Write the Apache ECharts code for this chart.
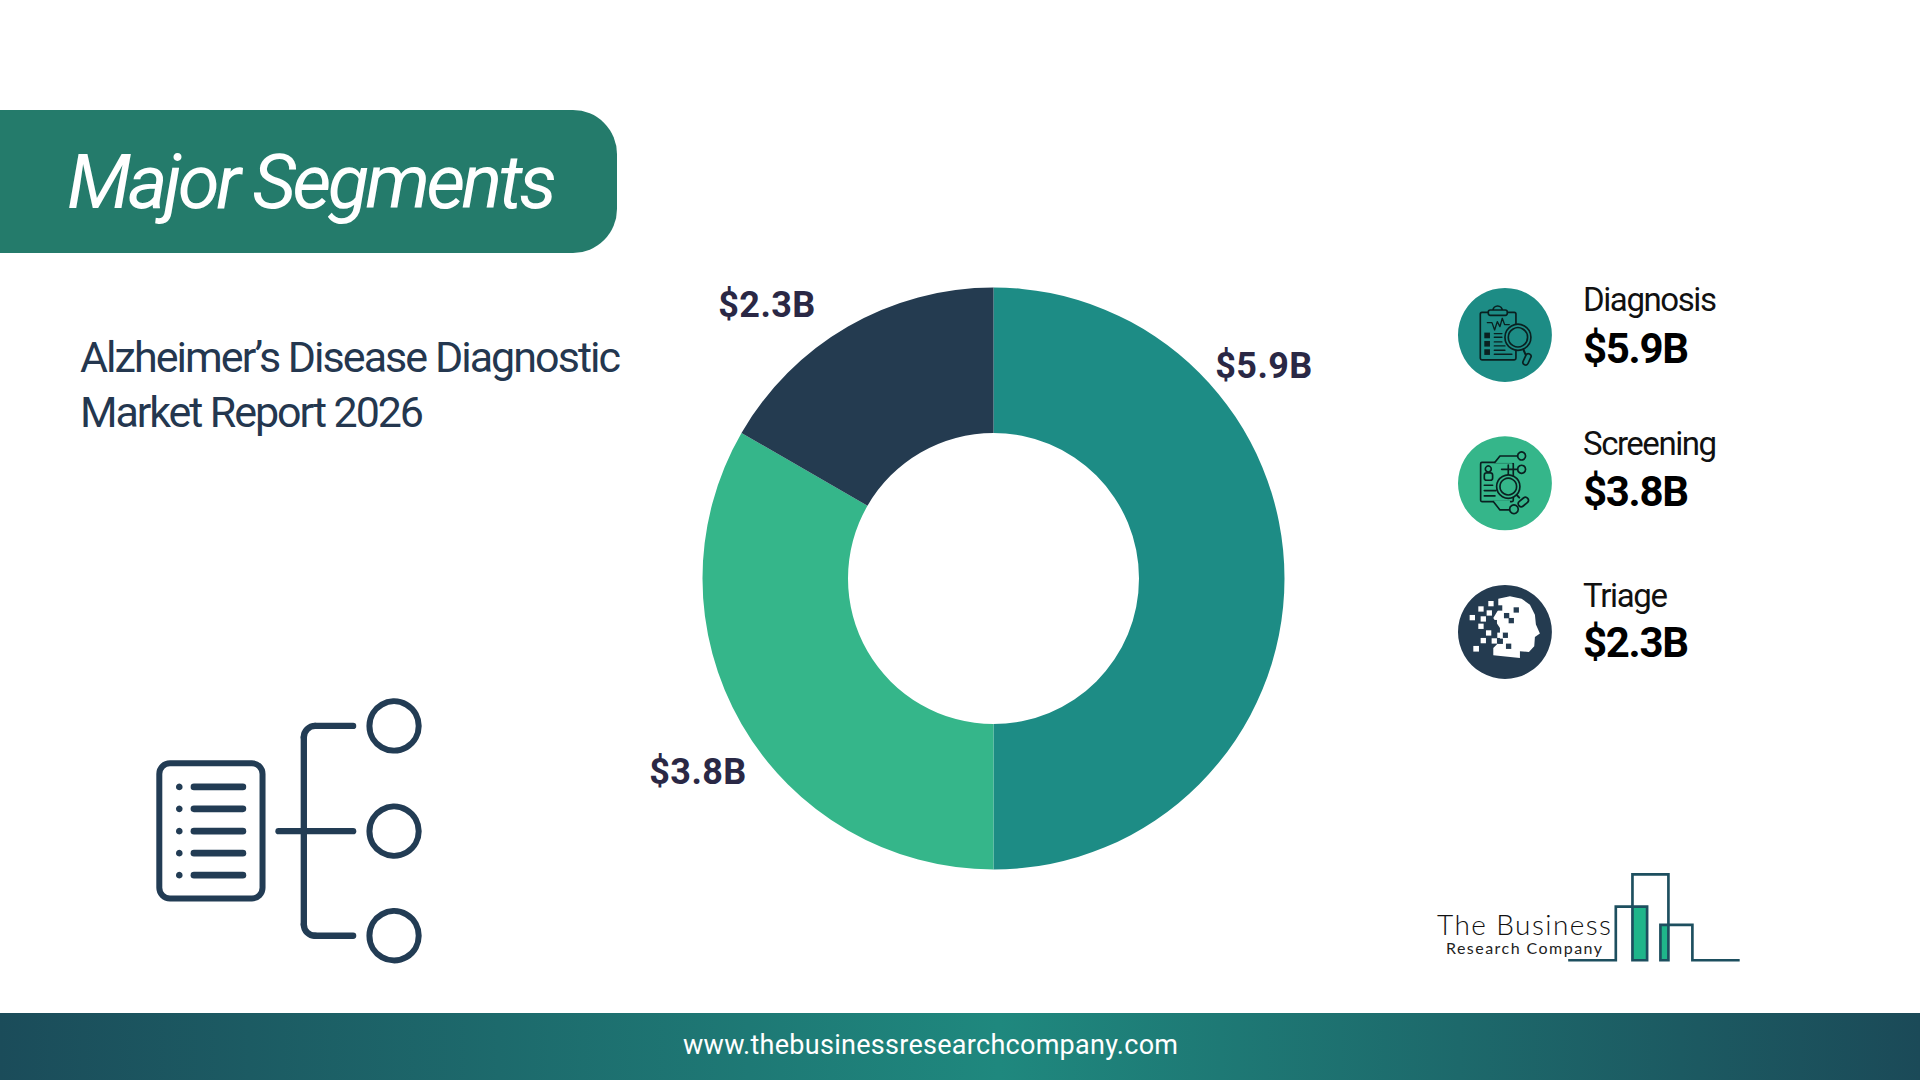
<!DOCTYPE html>
<html>
<head>
<meta charset="utf-8">
<style>html,body{margin:0;padding:0;background:#fff}#c{width:1920px;height:1080px}</style>
<script src="https://cdn.jsdelivr.net/npm/echarts@6/dist/echarts.min.js"></script>
</head>
<body>
<div id="c"></div>
<script>
// Data
const categories = ['Diagnosis', 'Screening', 'Triage'];
const valueLabels = ['$5.9B', '$3.8B', '$2.3B'];
// Slice sizes as drawn in the reference: the arcs measure 180, 120 and 60 degrees
const sliceSizes = [6, 4, 2];
const headerTitle = 'Major Segments';
const reportLines = ['Alzheimer\u2019s Disease Diagnostic', 'Market Report 2026'];
const footerUrl = 'www.thebusinessresearchcompany.com';
const sliceColors = ['#1D8C85', '#35B68A', '#243B50'];
const labelCenters = [[1264, 366], [698, 772], [767, 305]];

const INK = '#223C54';
const measure = document.createElement('canvas').getContext('2d');
const spacing = {};
function fit(text, font, size, width) {
  measure.font = font;
  spacing[text + '|' + size] = (width - measure.measureText(text).width) / (text.length - 1);
}
function T(text, x, base, size, opt) {
  opt = opt || {};
  const font = (opt.italic ? 'italic ' : '') + (opt.weight || 400) + ' ' + size + 'px ' + (opt.family || 'Roboto');
  if (opt.width) fit(text, font, size, opt.width);
  return {
    type: 'text', x: x, y: base, silent: true,
    style: {
      text: text, x: 0, y: -0.34 * size, fill: opt.color || '#000',
      font: font, align: opt.align || 'left', verticalAlign: 'middle'
    }
  };
}
const ln = (a, b, c, d, w, col, cap) => ({type: 'line', silent: true, shape: {x1: a, y1: b, x2: c, y2: d},
  style: {stroke: col, lineWidth: w, lineCap: cap || 'round', fill: null}});
const ring = (cx, cy, r, w, col, fill) => ({type: 'circle', silent: true, shape: {cx, cy, r},
  style: {stroke: col, lineWidth: w, fill: fill || 'none'}});
const disc = (cx, cy, r, col) => ({type: 'circle', silent: true, shape: {cx, cy, r}, style: {fill: col}});
const box = (x, y, w, h, r, stroke, lw, fill) => ({type: 'rect', silent: true, shape: {x, y, width: w, height: h, r},
  style: {stroke: stroke || null, lineWidth: lw || 0, fill: fill || 'none'}});
const arc = (cx, cy, r, a, b, w, col) => ({type: 'arc', silent: true, shape: {cx, cy, r, startAngle: a, endAngle: b, clockwise: true},
  style: {stroke: col, lineWidth: w, fill: null, lineCap: 'round'}});
const pl = (pts, w, col) => ({type: 'polyline', silent: true, shape: {points: pts},
  style: {stroke: col, lineWidth: w, fill: null, lineJoin: 'round', lineCap: 'round'}});
const capsule = (cx, cy, len, h, deg, stroke, lw, fill) => ({type: 'rect', silent: true, x: cx, y: cy, rotation: -deg * Math.PI / 180,
  shape: {x: -len / 2, y: -h / 2, width: len, height: h, r: h / 2}, style: {stroke, lineWidth: lw, fill}});
const sq = (x, y, s, col) => box(x, y, s, s, 0, null, 0, col);

// Tree icon, bottom left
const treeY = [138, 454, 768];
const bullets = [321, 387, 454, 520, 586];
const treeIcon = {
  type: 'group', x: 130, y: 680, scaleX: 1 / 3, scaleY: 1 / 3,
  children: [
    box(88, 250, 310, 406, 32, INK, 18),
    ...bullets.flatMap(y => [disc(148, y, 10, INK), ln(192, y, 339, y, 20, INK)]),
    ln(446, 454, 670, 454, 19, INK),
    ln(522, 172, 522, 734, 19, INK),
    arc(556, 172, 34, Math.PI, Math.PI * 1.5, 19, INK),
    arc(556, 734, 34, Math.PI / 2, Math.PI, 19, INK),
    ln(556, 138, 670, 138, 19, INK),
    ln(556, 768, 670, 768, 19, INK),
    ...treeY.map(y => ring(793, y, 74, 18, INK))
  ]
};

// Round icons
const K = '#0A2020';
const LW = 5;
const iconDiagnosis = {
  type: 'group', x: 1450, y: 280, scaleX: 1 / 3, scaleY: 1 / 3,
  children: [
    disc(165, 165, 141, sliceColors[0]),
    box(91, 97, 107, 143, 5, K, LW),
    arc(143, 92, 14, Math.PI, 0, LW, K),
    box(115, 90, 57, 16, 6, K, LW, sliceColors[0]),
    pl([[112, 128], [126, 128], [134, 150], [142, 125], [150, 140], [157, 115], [164, 134], [178, 134]], LW - 1, K),
    sq(103, 158, 17, K), sq(103, 183, 17, K), sq(103, 208, 17, K),
    ln(133, 161, 156, 161, LW - 1, K), ln(133, 172, 156, 172, LW - 1, K), ln(133, 186, 156, 186, LW - 1, K),
    ln(133, 198, 165, 198, LW - 1, K), ln(133, 211, 165, 211, LW - 1, K), ln(133, 223, 186, 223, LW - 1, K),
    ln(220, 208, 227, 224, LW + 1, K),
    capsule(231, 238, 36, 16, -65, K, LW, sliceColors[0]),
    ring(204, 172, 39, LW, K, sliceColors[0]),
    ring(204, 172, 29, LW, K, sliceColors[0])
  ]
};
const iconScreening = {
  type: 'group', x: 1450, y: 430, scaleX: 1 / 3, scaleY: 1 / 3,
  children: [
    disc(165, 160, 141, sliceColors[1]),
    box(92, 97, 98, 118, 4, K, LW),
    ring(115, 117, 9, LW, K),
    box(103, 129, 25, 22, 7, K, LW),
    ln(103, 166, 128, 166, LW, K), ln(103, 182, 138, 182, LW, K), ln(103, 198, 135, 198, LW, K),
    box(135, 70, 70, 29, 0, null, 0, sliceColors[1]),
    pl([[135, 97], [150, 78], [203, 78]], LW, K),
    ring(215, 78, 12, LW, K),
    pl([[155, 118], [203, 118]], LW, K),
    ln(175, 105, 175, 135, LW, K),
    ring(215, 118, 12, LW, K),
    box(130, 212, 50, 32, 0, null, 0, sliceColors[1]),
    pl([[130, 215], [150, 240], [179, 240]], LW, K),
    ring(192, 238, 13, LW, K),
    ln(198, 193, 208, 203, LW + 1, K),
    capsule(220, 216, 34, 18, -40, K, LW, sliceColors[1]),
    ring(175, 170, 35, LW, K, sliceColors[1]),
    ring(175, 170, 25, LW, K, sliceColors[1])
  ]
};
const WHITE = '#FFFFFF';
const headPts = [[145, 62], [180, 55], [215, 62], [240, 80], [255, 110], [258, 140], [270, 167], [255, 177], [253, 205], [237, 222], [210, 220], [210, 240], [130, 232], [130, 210], [150, 190], [150, 150], [130, 120], [145, 95]];
const whiteSq = [[115, 69], [85, 85], [110, 97], [59, 111], [92, 115], [85, 137], [108, 157], [92, 180], [125, 181], [142, 164]];
const darkSq = [[141, 82], [162, 105], [191, 88], [176, 120], [108, 116], [125, 126], [125, 148], [158, 164], [143, 182], [168, 197]];
const iconTriage = {
  type: 'group', x: 1450, y: 578, scaleX: 1 / 3, scaleY: 1 / 3,
  children: [
    disc(165, 162, 141, sliceColors[2]),
    {type: 'polygon', silent: true, shape: {points: headPts}, style: {fill: WHITE}},
    ...darkSq.map(p => sq(p[0], p[1], 16, sliceColors[2])),
    ...whiteSq.map(p => sq(p[0], p[1], 16, WHITE)),
    sq(70, 204, 17, WHITE)
  ]
};

// Logo
const LOGO = '#1D4F5F';
const logo = {
  type: 'group', x: 1420, y: 860, scaleX: 1 / 3, scaleY: 1 / 3,
  children: [
    box(638, 142, 44, 158, 0, null, 0, '#1FB58A'),
    box(722, 197, 24, 103, 0, null, 0, '#1FB58A'),
    {type: 'polyline', silent: true, shape: {points: [[445, 301], [588, 301], [588, 140], [682, 140], [682, 301], [638, 301], [638, 43], [746, 43], [746, 301], [722, 301], [722, 195], [818, 195], [818, 301], [960, 301]]},
      style: {stroke: LOGO, lineWidth: 8, fill: null, lineJoin: 'miter'}}
  ]
};

const legendY = [[311, 363], [455, 506], [607, 657]];
const legendWidthName = [134, 134, 85];
const legendText = categories.flatMap((c, i) => [
  T(c, 1583, legendY[i][0], 33, {color: '#111', width: legendWidthName[i]}),
  T(valueLabels[i], 1583, legendY[i][1], 42, {weight: 700, width: 106})
]);

const graphicEls = [
  {type: 'rect', silent: true, shape: {x: -60, y: 110, width: 677, height: 143, r: 44}, style: {fill: '#247B6B'}},
  T(headerTitle, 67, 208, 76, {italic: true, color: '#fff', width: 490}),
  T(reportLines[0], 80, 372, 43, {color: '#24374F', width: 541}),
  T(reportLines[1], 80, 427, 43, {color: '#24374F', width: 344}),
  treeIcon, iconDiagnosis, iconScreening, iconTriage,
  ...legendText,
  logo,
  T('The Business', 1437, 934, 28, {family: 'Lato', weight: 300, color: '#111', width: 174}),
  T('Research Company', 1446, 953, 16, {family: 'Lato', color: '#222', width: 156}),
  {type: 'rect', silent: true, shape: {x: 0, y: 1013, width: 1920, height: 67}, style: {fill: {
    type: 'linear', x: 0, y: 0, x2: 1, y2: 0, colorStops: [
      {offset: 0, color: '#1B4C5A'}, {offset: 0.52, color: '#1F887E'}, {offset: 1, color: '#1B4A58'}]}}},
  T(footerUrl, 683, 1054, 27, {color: '#fff', width: 495})
];

const PIE_FONT = 36;
valueLabels.forEach(v => fit(v, '700 ' + PIE_FONT + 'px Roboto', PIE_FONT, 97));

const chart = echarts.init(document.getElementById('c'), null, {renderer: 'svg', width: 1920, height: 1080});
chart.setOption({
  animation: false,
  backgroundColor: '#fff',
  graphic: {elements: graphicEls},
  series: [{
    type: 'pie',
    center: [993.5, 578.5],
    radius: [145.5, 291],
    startAngle: 90,
    clockwise: true,
    silent: true,
    avoidLabelOverlap: false,
    itemStyle: {borderWidth: 0},
    emphasis: {disabled: true},
    data: categories.map((c, i) => ({
      name: c, value: sliceSizes[i], itemStyle: {color: sliceColors[i]}
    })),
    label: {
      show: true, position: 'outside',
      formatter: p => valueLabels[p.dataIndex],
      fontFamily: 'Roboto', fontWeight: 700, fontSize: PIE_FONT, color: '#2A2845'
    },
    labelLine: {show: false},
    labelLayout: p => ({
      x: labelCenters[p.dataIndex][0], y: labelCenters[p.dataIndex][1],
      align: 'center', verticalAlign: 'middle', hideOverlap: false
    })
  }]
});
// The reference sets its text with tracking; apply it to the SVG text elements
function applyTracking() {
  document.querySelectorAll('#c svg text').forEach(el => {
    const size = Math.round(parseFloat(getComputedStyle(el).fontSize));
    const ls = spacing[el.textContent + '|' + size];
    if (ls !== undefined) el.style.letterSpacing = ls.toFixed(3) + 'px';
  });
}
applyTracking();
chart.on('finished', applyTracking);
</script>
</body>
</html>
